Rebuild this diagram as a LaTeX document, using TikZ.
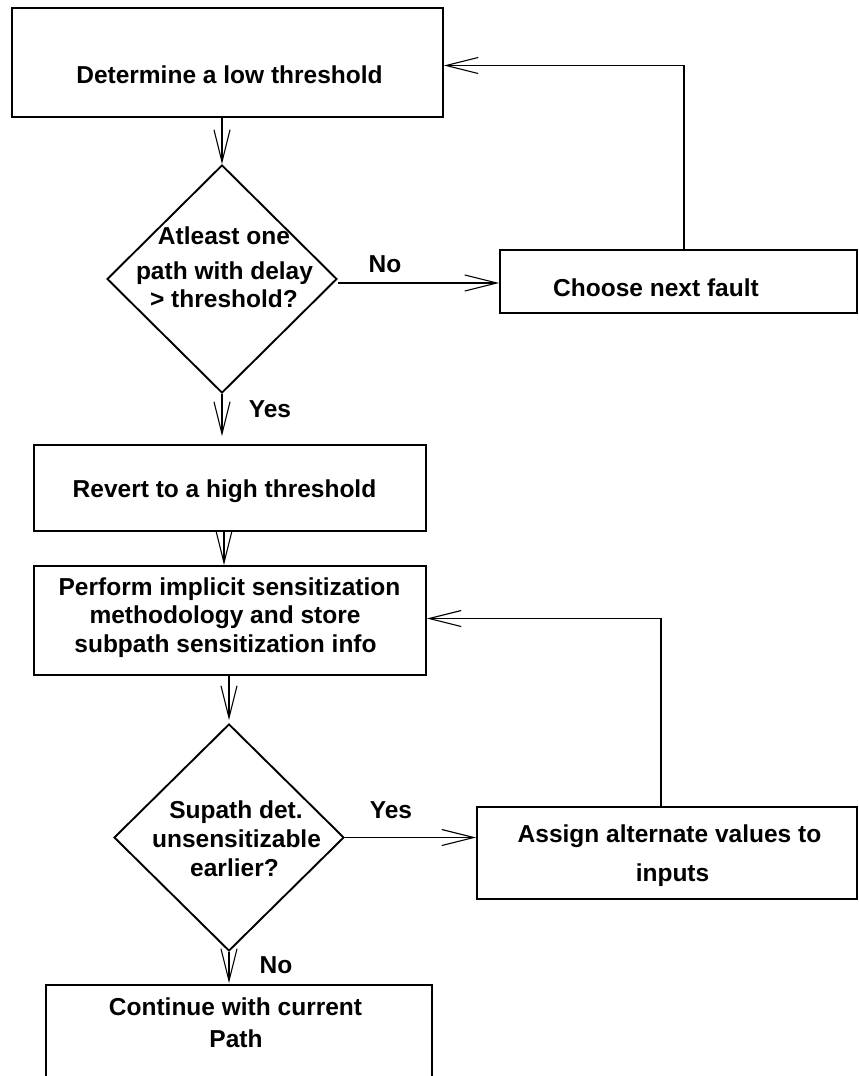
\documentclass[tikz,border=0pt]{standalone}
\usepackage{fontspec}
\setmainfont{Liberation Sans}
\usetikzlibrary{arrows.meta,shapes.geometric}
\begin{document}
\begin{tikzpicture}[x=1pt,y=-1pt,
  stepbox/.style={draw, line width=1.9pt, rectangle, inner sep=0pt},
  decision/.style={draw, line width=1.9pt, diamond, inner sep=0pt,
                   minimum width=230pt, minimum height=228pt},
  txt/.style={anchor=base, inner sep=0pt, font=\fontsize{24.5}{29}\selectfont\bfseries},
  flow/.style={line width=1.9pt,
               -{Straight Barb[length=32pt,width=16pt,line width=1.1pt]}},
]
\useasboundingbox (0,0) rectangle (859,1076);
\fill[white] (0,0) rectangle (859,1076);
\clip (0,0) rectangle (859,1076);

% process boxes and decisions
\node[stepbox, minimum width=431pt, minimum height=109pt] (b1) at (227.5,62.5) {};
\node[stepbox, minimum width=357pt, minimum height=63pt] (choose) at (678.5,281.5) {};
\node[decision] (d1) at (222,279) {};
\node[stepbox, minimum width=392pt, minimum height=86pt] (revert) at (230,488) {};
\node[stepbox, minimum width=392pt, minimum height=109pt] (perform) at (230,620.5) {};
\node[decision, minimum height=227pt] (d2) at (229,837.5) {};
\node[stepbox, minimum width=380pt, minimum height=92pt] (assign) at (667,853) {};
\node[stepbox, minimum width=386pt, minimum height=120pt] (cont) at (239,1045) {};

% texts
\node[txt] (t1) at (229.5,83) {Determine a low threshold};
\node[txt] (tc) at (656,296) {Choose next fault};
\node[txt] (td1a) at (224,244) {Atleast one};
\node[txt] (td1b) at (224.5,279) {path with delay};
\node[txt] (td1c) at (224,307) {> threshold?};
\node[txt] (no1) at (385,272) {No};
\node[txt] (yes1) at (270,417) {Yes};
\node[txt] (tr) at (224.5,497) {Revert to a high threshold};
\node[txt] (tpa) at (229.5,595) {Perform implicit sensitization};
\node[txt] (tpb) at (225,623) {methodology and store};
\node[txt] (tpc) at (225.5,652) {subpath sensitization info};
\node[txt] (td2a) at (236,818) {Supath det.};
\node[txt] (td2b) at (236.5,847) {unsensitizable};
\node[txt] (td2c) at (234.5,876) {earlier?};
\node[txt] (yes2) at (391,818) {Yes};
\node[txt] (taa) at (669.5,842) {Assign alternate values to};
\node[txt] (tab) at (672.5,881) {inputs};
\node[txt] (no2) at (276,973) {No};
\node[txt] (tca) at (235.5,1015) {Continue with current};
\node[txt] (tcb) at (236,1047) {Path};

% connectors
\draw[flow] (b1.south -| d1.north) -- (d1.north);
\draw[flow] ([yshift=-4pt]d1.east) -- ([yshift=-4pt]d1.east -| choose.west);
\draw[flow] ([xshift=5.5pt]choose.north) |- ([yshift=-3pt]b1.east);
\draw[flow, shorten >=8pt] (d1.south) -- (d1.south |- revert.north);
\draw[flow] ([xshift=-6pt]revert.south) -- ([xshift=-6pt]perform.north);
\draw[flow, shorten >=3pt] (perform.south -| d2.north) -- (d2.north);
\draw[flow] (d2.east) -- (d2.east -| assign.west);
\draw[flow] ([xshift=-6pt]assign.north) |- ([yshift=2pt]perform.east);
\draw[flow, shorten >=1pt] (d2.south) -- (d2.south |- cont.north);
\end{tikzpicture}
\end{document}
